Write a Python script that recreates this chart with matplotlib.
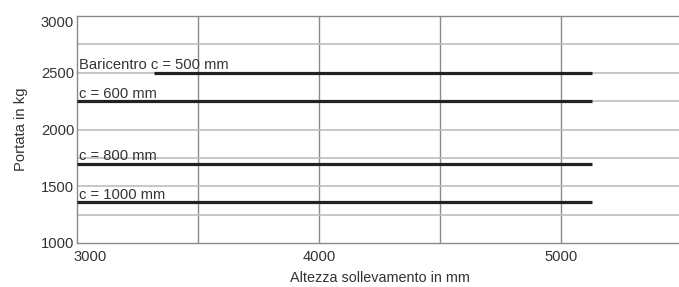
import matplotlib
matplotlib.use("Agg")
import matplotlib.pyplot as plt
from matplotlib.transforms import ScaledTranslation

plt.rcParams['font.family'] = ['Liberation Sans', 'DejaVu Sans']

# capacity curves (constant load over lift height)
labels = ["Baricentro c = 500 mm", "c = 600 mm", "c = 800 mm", "c = 1000 mm "]
x_start = [3320, 3000, 3000, 3000]
x_end = [5130, 5130, 5130, 5130]
capacity = [2500, 2250, 1700, 1360]

x_ticks = [3000, 4000, 5000]
y_ticks = [1000, 1500, 2000, 2500, 3000]

fig = plt.figure(figsize=(6.79, 2.87), dpi=100)
ax = fig.add_axes([77 / 679, 44 / 287, 605 / 679, 227 / 287])

ax.set_xlim(3000, 5500)
ax.set_ylim(1000, 3000)

# grid
for xv in [3500, 4000, 4500, 5000]:
    ax.axvline(xv, color='#8a8a8a', lw=1.0, zorder=1)
for yv in [1250, 1500, 1750, 2000, 2250, 2500, 2750]:
    ax.axhline(yv, color='#bdbdbd', lw=1.2, zorder=1)

for lab, xs, xe, c in zip(labels, x_start, x_end, capacity):
    ax.plot([xs, xe], [c, c], color='#222222', lw=2.3, solid_capstyle='butt', zorder=3)
    ax.annotate(lab, xy=(3000, c), xytext=(1.5, 2.5), textcoords='offset points',
                ha='left', va='baseline', fontsize=10.6, color='#333333', zorder=4)

for s in ['left', 'bottom', 'top']:
    ax.spines[s].set_color('#8a8a8a')
    ax.spines[s].set_linewidth(1.0)
ax.spines['right'].set_visible(False)

ax.set_xticks(x_ticks)
ax.set_xticklabels([str(v) for v in x_ticks])
ax.set_yticks(y_ticks)
ax.set_yticklabels([str(v) for v in y_ticks])
ax.tick_params(length=0, labelsize=10.6, colors='#333333')
ax.tick_params(axis='x', pad=5)
ax.tick_params(axis='y', pad=2)

first = ax.get_xticklabels()[0]
first.set_horizontalalignment('left')
first.set_transform(first.get_transform() + ScaledTranslation(-4 / 100, 0, fig.dpi_scale_trans))
top = ax.get_yticklabels()[-1]
top.set_verticalalignment('top')

ax.set_xlabel("Altezza sollevamento in mm", fontsize=10.4, color='#333333', labelpad=5)
ax.set_ylabel("Portata in kg", fontsize=10.6, color='#333333', labelpad=9)

fig.savefig("out.png", dpi=100)
